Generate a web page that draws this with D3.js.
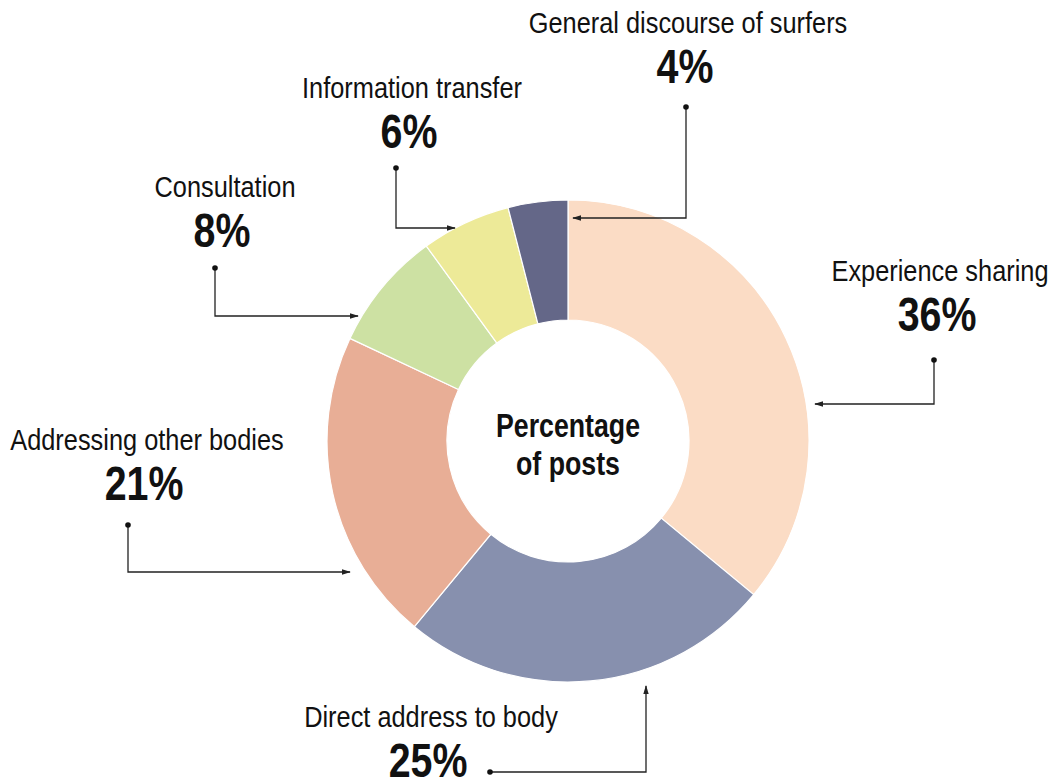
<!DOCTYPE html>
<html>
<head>
<meta charset="utf-8">
<script src="https://cdn.jsdelivr.net/npm/d3@7"></script>
<style>
  body { margin: 0; background: #fff; }
  text { font-family: "Liberation Sans", Arial, sans-serif; fill: #111; }
</style>
</head>
<body>
<div id="chart"></div>
<script>
// data
const categories = ["Experience sharing", "Direct address to body", "Addressing other bodies",
  "Consultation", "Information transfer", "General discourse of surfers"];
const values = [36, 25, 21, 8, 6, 4];
const colors = ["#fbdcc5", "#8790ae", "#e8ae96", "#cde1a3", "#edea98", "#646788"];

// callout layout: label centre, dot, elbow, arrow tip
const callouts = [
  { lx: 940, ly: 281, pts: [[934, 360], [934, 404], [815, 404]] },
  { lx: 431, ly: 727, pts: [[490, 772], [646, 772], [646, 686]] },
  { lx: 147, ly: 450, pts: [[128, 525], [128, 572], [350, 572]] },
  { lx: 225, ly: 197, pts: [[215, 268], [215, 316], [358, 316]] },
  { lx: 412, ly: 98,  pts: [[396, 168], [396, 228], [455, 228]] },
  { lx: 688, ly: 33,  pts: [[686, 107], [686, 218], [573, 218]] }
];

const width = 1050, height = 782;
const cx = 568, cy = 441, outerR = 241, innerR = 121;

const svg = d3.select("#chart").append("svg")
  .attr("width", width)
  .attr("height", height);

svg.append("defs").append("marker")
  .attr("id", "arrow")
  .attr("viewBox", "0 0 10 10")
  .attr("refX", 9).attr("refY", 5)
  .attr("markerWidth", 7).attr("markerHeight", 7)
  .attr("orient", "auto")
  .append("path")
  .attr("d", "M0,2 L10,5 L0,8 Z")
  .attr("fill", "#222");

const rows = categories.map((c, i) => ({ name: c, value: values[i], color: colors[i], callout: callouts[i] }));

const pie = d3.pie().sort(null).value(d => d.value);
const arc = d3.arc().innerRadius(innerR).outerRadius(outerR);

const g = svg.append("g").attr("transform", `translate(${cx},${cy})`);

g.selectAll("path.slice")
  .data(pie(rows)).enter()
  .append("path")
  .classed("slice", true)
  .attr("d", arc)
  .attr("fill", d => d.data.color)
  .attr("stroke", "#fff")
  .attr("stroke-width", 1.2);

// no condensed face installed, so squeeze a regular one
function squeezedText(parent, x, y, str, size, bold, sx) {
  parent.append("g")
    .attr("transform", `translate(${x},${y}) scale(${sx},1)`)
    .append("text")
    .attr("text-anchor", "middle")
    .style("font-size", size + "px")
    .style("font-weight", bold ? "bold" : "normal")
    .text(str);
}

squeezedText(g, 0, -4, "Percentage", 33, true, 0.81);
squeezedText(g, 0, 34, "of posts", 33, true, 0.81);

// callout lines
const line = d3.line();
svg.selectAll("path.callout")
  .data(rows).enter()
  .append("path")
  .classed("callout", true)
  .attr("d", d => line(d.callout.pts))
  .attr("fill", "none")
  .attr("stroke", "#222")
  .attr("stroke-width", 1.3)
  .attr("marker-end", "url(#arrow)");

svg.selectAll("circle.dot")
  .data(rows).enter()
  .append("circle")
  .classed("dot", true)
  .attr("cx", d => d.callout.pts[0][0])
  .attr("cy", d => d.callout.pts[0][1])
  .attr("r", 2.8)
  .attr("fill", "#111");

rows.forEach(d => {
  squeezedText(svg, d.callout.lx, d.callout.ly, d.name, 29.5, false, 0.86);
  squeezedText(svg, d.callout.lx - 3, d.callout.ly + 50, d.value + "%", 48, true, 0.82);
});
</script>
</body>
</html>
